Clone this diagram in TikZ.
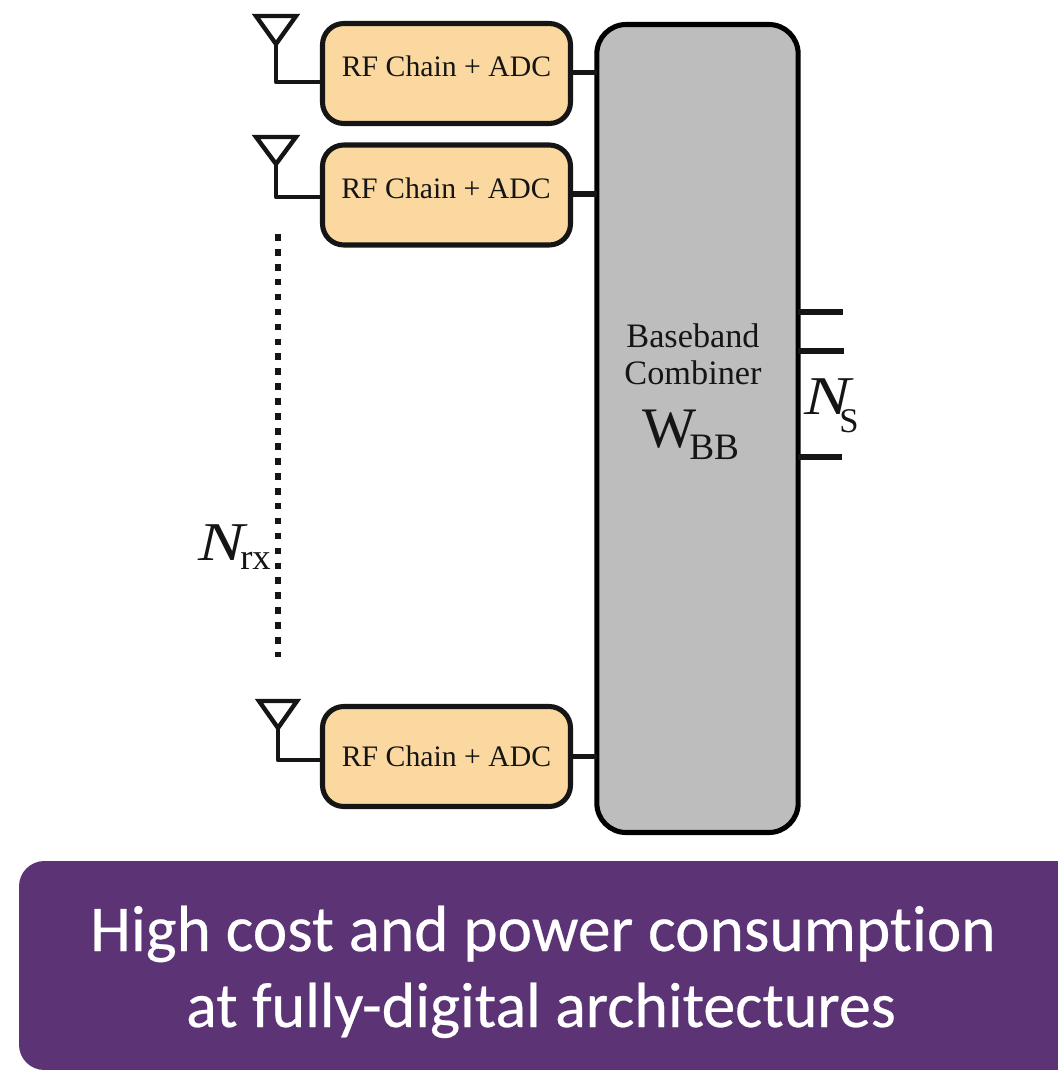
\documentclass[tikz,border=0pt]{standalone}
\usepackage{fontspec}
\setmainfont{Liberation Serif}
\newfontfamily\capfont[FakeBold=0.4]{Carlito}
\definecolor{boxfill}{HTML}{FBD89F}
\definecolor{grayfill}{HTML}{BDBDBD}
\definecolor{purplefill}{HTML}{5C3476}
\definecolor{ink}{HTML}{151515}
\tikzset{
  rfbox/.style={draw=ink,fill=boxfill,line width=3.8pt,rounded corners=16pt,minimum width=186pt,minimum height=75pt,inner sep=0pt,outer sep=0pt},
  rftext/.style={font=\fontsize{22.3}{24}\selectfont,text=ink,inner sep=0pt},
  wire/.style={draw=ink,line width=4.2pt},
  antenna/.style={draw=ink,line width=3.3pt,line join=miter},
  feed/.style={draw=ink,line width=3.3pt,line join=round},
  stub/.style={draw=ink,line width=4.4pt},
  midtext/.style={font=\fontsize{25.7}{27}\selectfont,text=ink,inner sep=0pt},
  subtext/.style={anchor=base west,inner sep=0pt,text=ink},
}
\begin{document}
\begin{tikzpicture}[x=0.75pt,y=-0.75pt]
\useasboundingbox (0,0) rectangle (1057,1070);
% baseband
\node[draw=black,fill=grayfill,line width=3.8pt,rounded corners=22pt,minimum width=151pt,minimum height=606pt,inner sep=0pt,outer sep=0pt] (bb) at (697.5,428.5) {};
% RF boxes
\node[rfbox] (b1) at (446.5,73.5) {};
\node[rfbox] (b2) at (446.5,195) {};
\node[rfbox] (b3) at (446.5,756.5) {};
\node[rftext] (t1) at (446.5,66) {RF Chain + ADC};
\node[rftext] (t2) at (446,188) {RF Chain + ADC};
\node[rftext] (t3) at (446.5,756) {RF Chain + ADC};
% connectors to baseband
\draw[wire] (b1.east) ++(0,-1) coordinate (c1) -- (c1 -| bb.west);
\draw[wire] (b2.east) ++(0,-1) coordinate (c2) -- (c2 -| bb.west);
\draw[wire] (b3.east) coordinate (c3) -- (c3 -| bb.west);
% antennas
\coordinate (a1) at (276,44);
\coordinate (a2) at (276,164);
\coordinate (a3) at (278,728);
\draw[antenna] (256,16) -- (296,16) -- (a1) -- cycle;
\draw[antenna] (256,137) -- (296,137) -- (a2) -- cycle;
\draw[antenna] (259,701) -- (297,701) -- (a3) -- cycle;
\coordinate (f1) at (b1.west |- 0,82);
\coordinate (f2) at (b2.west |- 0,197);
\coordinate (f3) at (b3.west |- 0,760);
\draw[feed] (a1) |- (f1);
\draw[feed] (a2) |- (f2);
\draw[feed] (a3) |- (f3);
% dots
\coordinate (d1) at (278,234);
\coordinate (d2) at (278,657);
\draw[draw=ink,line width=4.4pt,dash pattern=on 5pt off 6.2pt] (d1) -- (d2);
% outputs
\coordinate (s1) at (843,312);
\coordinate (s2) at (844,351);
\coordinate (s3) at (842,457);
\draw[stub] (bb.east |- s1) -- (s1);
\draw[stub] (bb.east |- s2) -- (s2);
\draw[stub] (bb.east |- s3) -- (s3);
% labels
\node[midtext] (l1) at (693,336) {Baseband};
\node[midtext] (l2) at (693,373) {Combiner};
\node[subtext,font=\fontsize{43}{45}\selectfont] (wb) at (642,447) {W};
\node[subtext,font=\fontsize{28}{30}\selectfont] (wbs) at (689,459) {BB};
\node[subtext,font=\fontsize{41}{43}\selectfont\itshape,xscale=1.27] (ns) at (804,414) {N};
\node[subtext,font=\fontsize{26}{28}\selectfont] (nss) at (839,432) {S};
\node[subtext,font=\fontsize{41}{43}\selectfont\itshape,xscale=1.27] (nr) at (198,560) {N};
\node[subtext,font=\fontsize{27.5}{29}\selectfont] (nrs) at (240,569) {rx};
% banner
\path[fill=purplefill,rounded corners=19pt] (19,861) rectangle (1090,1070);
\node[anchor=base,text=white,font=\fontsize{49}{49}\selectfont\capfont,inner sep=0pt] (h1) at (543,951) {High cost and power consumpt\kern0pt ion};
\node[anchor=base,text=white,font=\fontsize{48}{48}\selectfont\capfont,inner sep=0pt] (h2) at (541,1027) {at fully-digital architectures};
\end{tikzpicture}
\end{document}
